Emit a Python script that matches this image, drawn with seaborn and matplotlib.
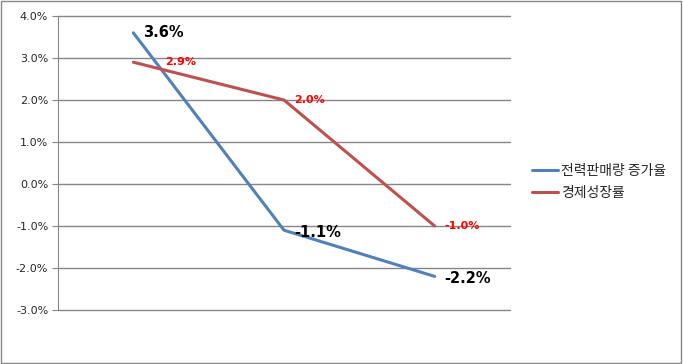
import numpy as np
import pandas as pd
import matplotlib
matplotlib.use("Agg")
import matplotlib.pyplot as plt
import seaborn as sns

periods = ["1", "2", "3"]
series_names = ["전력판매량 증가율", "경제성장률"]
power_sales = [3.6, -1.1, -2.2]
gdp_growth = [2.9, 2.0, -1.0]
colors = ["#4F81BD", "#C0504D"]

sns.set_style("white")
plt.rcParams["font.family"] = ["Noto Sans CJK KR", "DejaVu Sans"]

table = pd.DataFrame({
    "x": list(range(len(periods))) * 2,
    "value": power_sales + gdp_growth,
    "series": [series_names[0]] * 3 + [series_names[1]] * 3,
})

fig = plt.figure(figsize=(6.83, 3.64), dpi=100)
ax = fig.add_axes([58 / 683, 54 / 364, 452 / 683, 294 / 364])

sns.lineplot(table, x="x", y="value", hue="series", palette=colors,
             linewidth=2.2, ax=ax, legend=True)

ax.set_xlim(-0.5, 2.5)
ax.set_ylim(-3.0, 4.0)
ticks = np.arange(-3, 4.01, 1)
ax.set_yticks(ticks)
ax.set_yticklabels([f"{v:.1f}%" for v in ticks], fontsize=8, family="DejaVu Sans")
ax.set_xticks([])
ax.set_xlabel("")
ax.set_ylabel("")
for t in ticks:
    ax.axhline(t, color="#868686", linewidth=1, zorder=0, clip_on=False)
ax.tick_params(axis="y", length=4, color="#868686", pad=3, left=True)
for side in ["top", "right", "bottom"]:
    ax.spines[side].set_visible(False)
ax.spines["left"].set_color("#868686")

# data labels (offsets in pixels)
blue_off = [(10, 0), (10, -2), (10, -2)]
red_off = [(32, 0), (10, 0), (10, 0)]
for i, v in enumerate(power_sales):
    ax.annotate(f"{v:.1f}%", (i, v), xytext=blue_off[i], textcoords="offset pixels",
                ha="left", va="center", fontsize=10.5, fontweight="bold",
                color="black", family="DejaVu Sans")
for i, v in enumerate(gdp_growth):
    ax.annotate(f"{v:.1f}%", (i, v), xytext=red_off[i], textcoords="offset pixels",
                ha="left", va="center", fontsize=8, fontweight="bold",
                color="#FF0000", family="DejaVu Sans")

leg = ax.legend(loc="center left", bbox_to_anchor=(1.02, 0.435), frameon=False,
                fontsize=10, handlelength=1.9, handletextpad=0.2, labelspacing=0.6)

fig.add_artist(plt.Rectangle((0.002, 0.003), 0.995, 0.993, transform=fig.transFigure,
                             fill=False, edgecolor="#868686", linewidth=1))

fig.savefig("out.png", dpi=100, facecolor="white")
